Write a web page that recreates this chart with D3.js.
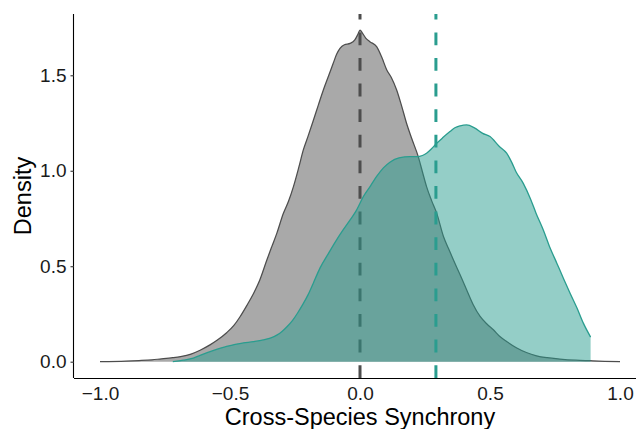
<!DOCTYPE html>
<html>
<head>
<meta charset="utf-8">
<script src="https://cdn.jsdelivr.net/npm/d3@7"></script>
<style>
  body { margin: 0; background: #fff; }
  svg { display: block; font-family: "Liberation Sans", Arial, sans-serif; }
</style>
</head>
<body>
<svg id="chart" width="636" height="429"></svg>
<script>
// ---------- data ----------
const xTicks = [-1.0, -0.5, 0.0, 0.5, 1.0];
const yTicks = [0.0, 0.5, 1.0, 1.5];

// null distribution (gray), [synchrony, density]
const nullDensity = [
  [-1.0, 0.0], [-0.9, 0.003], [-0.85, 0.006], [-0.8, 0.01], [-0.77, 0.014],
  [-0.72, 0.021], [-0.69, 0.027], [-0.65, 0.04], [-0.615, 0.06], [-0.577, 0.088],
  [-0.55, 0.112], [-0.513, 0.152], [-0.485, 0.19], [-0.462, 0.234], [-0.435, 0.295],
  [-0.41, 0.356], [-0.385, 0.429], [-0.359, 0.53], [-0.34, 0.6], [-0.32, 0.672],
  [-0.295, 0.776], [-0.275, 0.84], [-0.256, 0.917], [-0.235, 1.02], [-0.218, 1.109],
  [-0.2, 1.18], [-0.179, 1.266], [-0.16, 1.345], [-0.141, 1.423], [-0.12, 1.5],
  [-0.103, 1.563], [-0.09, 1.61], [-0.077, 1.641], [-0.06, 1.66], [-0.038, 1.667],
  [-0.02, 1.685], [-0.008, 1.715], [0.0, 1.737], [0.01, 1.72], [0.022, 1.695],
  [0.038, 1.676], [0.064, 1.65], [0.085, 1.59], [0.103, 1.528], [0.12, 1.49],
  [0.141, 1.423], [0.16, 1.34], [0.179, 1.249], [0.2, 1.165], [0.224, 1.074],
  [0.24, 0.995], [0.256, 0.917], [0.275, 0.845], [0.295, 0.778], [0.321, 0.656],
  [0.34, 0.594], [0.359, 0.534], [0.385, 0.455], [0.41, 0.377], [0.435, 0.3],
  [0.462, 0.237], [0.49, 0.195], [0.513, 0.167], [0.538, 0.132], [0.564, 0.106],
  [0.603, 0.072], [0.64, 0.048], [0.679, 0.031], [0.72, 0.021], [0.769, 0.014],
  [0.83, 0.008], [0.885, 0.005], [0.94, 0.002], [1.0, 0.0]
];

// observed distribution (teal), [synchrony, density]
const observedDensity = [
  [-0.72, 0.0], [-0.68, 0.008], [-0.641, 0.019], [-0.615, 0.033], [-0.56, 0.06],
  [-0.513, 0.08], [-0.48, 0.091], [-0.449, 0.098], [-0.41, 0.105], [-0.372, 0.114],
  [-0.345, 0.124], [-0.32, 0.139], [-0.3, 0.158], [-0.28, 0.184], [-0.26, 0.215],
  [-0.24, 0.255], [-0.22, 0.3], [-0.2, 0.35], [-0.18, 0.41], [-0.154, 0.49],
  [-0.12, 0.57], [-0.09, 0.638], [-0.065, 0.69], [-0.038, 0.743], [-0.015, 0.79],
  [0.0, 0.83], [0.013, 0.865], [0.04, 0.92], [0.064, 0.97], [0.09, 1.015],
  [0.115, 1.045], [0.15, 1.068], [0.192, 1.074], [0.218, 1.074], [0.24, 1.08],
  [0.256, 1.092], [0.275, 1.115], [0.295, 1.144], [0.32, 1.175], [0.346, 1.205],
  [0.365, 1.225], [0.385, 1.235], [0.41, 1.24], [0.44, 1.225], [0.472, 1.196],
  [0.5, 1.179], [0.536, 1.127], [0.564, 1.092], [0.585, 1.04], [0.6, 0.995],
  [0.628, 0.934], [0.655, 0.855], [0.677, 0.778], [0.705, 0.69], [0.73, 0.6],
  [0.757, 0.516], [0.783, 0.435], [0.808, 0.359], [0.835, 0.28], [0.859, 0.202],
  [0.887, 0.129]
];

const nullMean = 0.0;
const observedMean = 0.292;

// ---------- layout ----------
const svg = d3.select("#chart");
const panelLeft = 74, panelRight = 646, panelTop = 14, panelBottom = 378;

const x = d3.scaleLinear().domain([-1.1, 1.1]).range([panelLeft, panelRight]);
const y = d3.scaleLinear().domain([-0.0854, 1.821]).range([panelBottom, panelTop]);

const gray = "#a9a9a9";
const grayLine = "#4d4d4d";
const teal = "#2a9d8f";

const area = d3.area()
  .x((d) => x(d[0]))
  .y0(y(0))
  .y1((d) => y(d[1]))
  .curve(d3.curveMonotoneX);

const line = d3.line()
  .x((d) => x(d[0]))
  .y((d) => y(d[1]))
  .curve(d3.curveMonotoneX);

// gray (null) density
svg.append("path").datum(nullDensity)
  .attr("d", area).attr("fill", gray);
svg.append("path").datum(nullDensity)
  .attr("d", line).attr("fill", "none")
  .attr("stroke", grayLine).attr("stroke-width", 1.25);

function vline(value, color) {
  svg.append("line")
    .attr("x1", x(value)).attr("x2", x(value))
    .attr("y1", panelBottom).attr("y2", panelTop)
    .attr("stroke", color)
    .attr("stroke-width", 3)
    .attr("stroke-dasharray", "12.8,12.8");
}

vline(nullMean, grayLine);

// teal (observed) density, semi-transparent on top
svg.append("path").datum(observedDensity)
  .attr("d", area).attr("fill", teal).attr("fill-opacity", 0.5);
svg.append("path").datum(observedDensity)
  .attr("d", line).attr("fill", "none")
  .attr("stroke", teal).attr("stroke-width", 1.3);

vline(observedMean, teal);

// ---------- axes ----------
const xAxis = svg.append("g")
  .attr("transform", `translate(0,${panelBottom})`)
  .call(d3.axisBottom(x).tickValues(xTicks).tickFormat(d3.format(".1f"))
    .tickSize(0).tickPadding(9));
xAxis.select(".domain").attr("stroke", "#000").attr("stroke-width", 1.1)
  .attr("d", `M${panelLeft},0.5H636`);
xAxis.selectAll("text").attr("font-size", 19).attr("fill", "#1a1a1a")
  .attr("font-family", "Liberation Sans, Arial, sans-serif");

const yAxis = svg.append("g")
  .attr("transform", `translate(${panelLeft},0)`)
  .call(d3.axisLeft(y).tickValues(yTicks).tickFormat(d3.format(".1f"))
    .tickSize(3.5).tickPadding(4));
yAxis.select(".domain").attr("stroke", "#000").attr("stroke-width", 1.1)
  .attr("d", `M-0.5,${panelTop}V${panelBottom}`);
yAxis.selectAll(".tick line").attr("stroke", "#333").attr("stroke-width", 1.1);
yAxis.selectAll("text").attr("font-size", 19).attr("fill", "#1a1a1a")
  .attr("font-family", "Liberation Sans, Arial, sans-serif");

// axis titles
svg.append("text")
  .attr("x", (panelLeft + panelRight) / 2).attr("y", 425)
  .attr("text-anchor", "middle")
  .attr("font-size", 23.5).attr("fill", "#000")
  .text("Cross-Species Synchrony");

svg.append("text")
  .attr("transform", `translate(31,${(panelTop + panelBottom) / 2}) rotate(-90)`)
  .attr("text-anchor", "middle")
  .attr("font-size", 23.5).attr("fill", "#000")
  .text("Density");
</script>
</body>
</html>
